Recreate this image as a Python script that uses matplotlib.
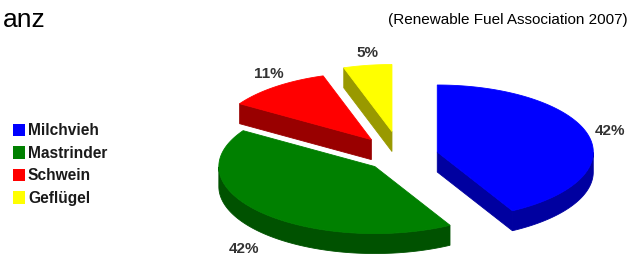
import numpy as np
import matplotlib
matplotlib.use("Agg")
import matplotlib.pyplot as plt
from matplotlib.patches import Polygon

plt.rcParams['font.family'] = ['Liberation Sans', 'DejaVu Sans']

# --- Data ---
categories = ['Milchvieh', 'Mastrinder', 'Schwein', 'Geflügel']
shares = [42, 42, 11, 5]
labels = ['42%', '42%', '11%', '5%']
top_colors = ['#0000FF', '#008000', '#FF0000', '#FFFF00']
side_colors = ['#0000A0', '#005200', '#990000', '#999900']
explode = [0.24, 0.23, 0.31, 0.37]

title_tail = 'anz'
source = '(Renewable Fuel Association 2007)'

# --- Pie geometry (canvas pixels) ---
cx, cy = 401, 157
rx, ry = 156, 67
depth = 20
label_rx, label_ry = 1.38 * rx, 1.57 * ry

fig = plt.figure(figsize=(6.3, 2.55), dpi=100)
ax = fig.add_axes([0, 0, 1, 1])
ax.set_xlim(0, 630)
ax.set_ylim(255, 0)
ax.axis('off')


def rim(theta, ox, oy, dz=0.0):
    t = np.radians(theta)
    return np.column_stack([ox + rx * np.cos(t), oy - ry * np.sin(t) + dz])


# slice angles: start at 12 o'clock, clockwise
fracs = np.array(shares, dtype=float) / sum(shares)
starts = 90 - 360 * np.concatenate([[0], np.cumsum(fracs)[:-1]])
ends = starts - 360 * fracs

slices = []
for i in range(len(shares)):
    th1, th2 = ends[i], starts[i]   # counter-clockwise from th1 to th2
    mid = np.radians((th1 + th2) / 2)
    ox = cx + explode[i] * rx * np.cos(mid)
    oy = cy - explode[i] * ry * np.sin(mid)
    slices.append((oy, i, th1, th2, ox))

# draw back slices first
for oy, i, th1, th2, ox in sorted(slices):
    thetas = np.linspace(th1, th2, 200)
    apex = np.array([[ox, oy]])
    kw = dict(closed=True, linewidth=0.6, antialiased=True)

    # outer wall, only the part facing the viewer
    front = np.sin(np.radians(thetas)) <= 1e-9
    if front.sum() > 1:
        arc = rim(thetas[front], ox, oy)
        wall = np.vstack([arc, arc[::-1] + [0, depth]])
        ax.add_patch(Polygon(wall, facecolor=side_colors[i], edgecolor=side_colors[i], **kw))

    # cut faces along the radii
    for th, visible in ((th1, np.cos(np.radians(th1)) > 1e-9),
                        (th2, np.cos(np.radians(th2)) < -1e-9)):
        if visible:
            p = rim(np.array([th]), ox, oy)
            face = np.vstack([apex, p, p + [0, depth], apex + [0, depth]])
            ax.add_patch(Polygon(face, facecolor=side_colors[i], edgecolor=side_colors[i], **kw))

    top = np.vstack([apex, rim(thetas, ox, oy)])
    ax.add_patch(Polygon(top, facecolor=top_colors[i], edgecolor=top_colors[i], **kw))

    # percentage label
    mid = np.radians((th1 + th2) / 2)
    lx = cx + label_rx * np.cos(mid)
    ly = cy - label_ry * np.sin(mid) + (depth if np.sin(mid) < 0 else 0)
    ax.text(lx, ly, labels[i], ha='center', va='center', fontsize=11,
            fontweight='bold', color='#333333')

# legend
row_y = 131 + 22.5 * np.arange(len(categories))
ax.scatter(np.full(len(categories), 19), row_y, marker='s', s=75,
           c=top_colors, linewidths=0)
for y, name in zip(row_y, categories):
    ax.text(28, y, name, ha='left', va='center', fontsize=11.2,
            fontweight='bold', color='#1a1a1a')

# title fragment and source
ax.text(46, 27, title_tail, ha='right', va='baseline', fontsize=19, color='black')
ax.text(628, 24, source, ha='right', va='baseline', fontsize=11, color='black')

plt.savefig('out.png', dpi=100)
